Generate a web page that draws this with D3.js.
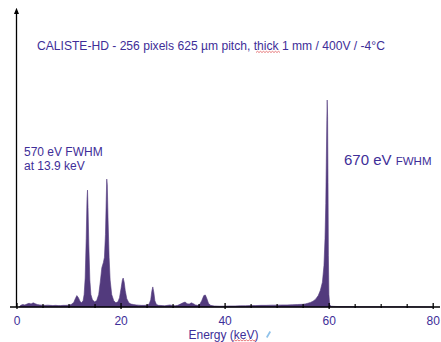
<!DOCTYPE html>
<html>
<head>
<meta charset="utf-8">
<script src="https://cdn.jsdelivr.net/npm/d3@7"></script>
<style>
  html, body { margin: 0; padding: 0; background: #fff; }
  svg { display: block; }
  text { font-family: "Liberation Sans", Arial, sans-serif; }
</style>
</head>
<body>
<svg id="chart" width="441" height="342"></svg>
<script>
// Am-241 spectrum measured with CALISTE-HD (energy in keV, counts in arbitrary units)
const energies = [
  0.5, 0.8, 1.2, 1.6, 2.0, 2.4, 2.8, 3.2, 3.6, 4.0, 4.5, 5.0, 5.5, 6.0, 6.5, 7.0, 7.5, 8.0, 8.5, 9.0,
  9.5, 10.0, 10.5, 11.0, 11.3, 11.6, 11.9, 12.2, 12.5, 12.8, 13.0, 13.2, 13.4, 13.55, 13.65, 13.75, 13.9, 14.1, 14.3, 14.6,
  15.0, 15.4, 15.8, 16.1, 16.4, 16.7, 16.9, 17.1, 17.25, 17.35, 17.45, 17.6, 17.8, 18.0, 18.3, 18.7, 19.1, 19.5, 19.8, 20.1,
  20.35, 20.5, 20.7, 20.9, 21.2, 21.6, 22.0, 22.5, 23.0, 23.5, 24.0, 24.5, 25.0, 25.5, 25.8, 26.0, 26.2, 26.4, 26.6, 26.9,
  27.3, 28.0, 28.5, 29.0, 29.5, 30.0, 30.5, 31.0, 31.5, 32.0, 32.4, 32.8, 33.2, 33.6, 34.0, 34.4, 34.8, 35.2, 35.6, 36.0,
  36.3, 36.6, 36.9, 37.3, 38.0, 39.0, 40.0, 41.0, 42.0, 43.0, 44.0, 45.0, 46.0, 47.0, 48.0, 49.0, 50.0, 51.0, 52.0, 53.0,
  54.0, 55.0, 55.5, 56.0, 56.5, 57.0, 57.5, 58.0, 58.4, 58.8, 59.1, 59.3, 59.45, 59.55, 59.65, 59.72, 59.8, 59.88, 59.95, 60.05,
  60.2, 60.5, 61.0, 62.0, 64.0, 66.0, 70.0, 75.0, 80.0
];
const counts = [
  0, 8, 12, 10, 14, 18, 15, 20, 16, 12, 10, 9, 8, 9, 8, 7, 8, 7, 7, 8,
  8, 9, 12, 22, 40, 55, 45, 28, 20, 30, 60, 140, 330, 520, 565, 480, 300, 130, 60, 35,
  25, 30, 60, 120, 190, 215, 240, 350, 520, 618, 590, 420, 240, 130, 60, 30, 20, 25, 45, 90,
  130, 140, 120, 80, 40, 20, 14, 12, 10, 9, 8, 8, 9, 14, 35, 75, 97, 70, 30, 12,
  8, 7, 6, 8, 10, 7, 6, 8, 14, 20, 24, 16, 14, 20, 16, 10, 8, 12, 30, 55,
  58, 40, 18, 8, 5, 4, 4, 5, 5, 6, 6, 7, 7, 8, 8, 9, 9, 10, 10, 11,
  12, 13, 15, 18, 22, 28, 38, 55, 80, 120, 200, 330, 500, 700, 900, 1000, 920, 600, 250, 60,
  10, 4, 3, 2, 2, 1, 1, 1, 0
];
const majorTicks = [0, 20, 40, 60, 80];
const minorTicks = [5, 10, 15, 25, 30, 35, 45, 50, 55, 65, 70, 75];

const titleText = "CALISTE-HD - 256 pixels 625 \u00b5m pitch, thick 1 mm / 400V / -4\u00b0C";
const leftNote = ["570 eV FWHM", "at 13.9 keV"];
const peakNote = "670 eV";
const peakNoteUnit = "FWHM";
const xLabel = "Energy (keV)";

const textColor = "#3e2e98";
const fillColor = "#523a7d";

const svg = d3.select("#chart");

const x = d3.scaleLinear().domain([0, 80]).range([16.5, 432.7]);
const y = d3.scaleLinear().domain([0, 1435]).range([307, 10]);

const spectrum = energies.map((e, i) => ({ e, c: counts[i] }));

// filled spectrum
const area = d3.area()
  .x(d => x(d.e))
  .y0(y(0))
  .y1(d => y(d.c))
  .curve(d3.curveLinear);

svg.append("path")
  .datum(spectrum)
  .attr("d", area)
  .attr("fill", fillColor)
  .attr("stroke", fillColor)
  .attr("stroke-width", 0.6)
  .attr("stroke-linejoin", "round");

// arrow for the vertical axis
svg.append("defs").append("marker")
  .attr("id", "arrow")
  .attr("viewBox", "0 0 10 10")
  .attr("refX", 5).attr("refY", 5)
  .attr("markerWidth", 5).attr("markerHeight", 6)
  .attr("orient", "auto")
  .append("path")
  .attr("d", "M0,1 L10,5 L0,9 Z")
  .attr("fill", "#000");

svg.append("line")
  .attr("x1", x(0)).attr("x2", x(0))
  .attr("y1", y(0)).attr("y2", y(1435) + 1)
  .attr("stroke", "#000").attr("stroke-width", 1.3)
  .attr("marker-end", "url(#arrow)");

// horizontal axis line
svg.append("line")
  .attr("x1", 10).attr("x2", 440)
  .attr("y1", y(0)).attr("y2", y(0))
  .attr("stroke", "#000").attr("stroke-width", 1.3);

// minor ticks
const minorAxis = svg.append("g")
  .attr("transform", `translate(0,${y(0)})`)
  .call(d3.axisBottom(x).tickValues(minorTicks).tickFormat("").tickSizeOuter(0));
minorAxis.select(".domain").remove();
minorAxis.selectAll(".tick line")
  .attr("y1", -3).attr("y2", 1)
  .attr("stroke", "#000").attr("stroke-width", 1.2);

// major ticks with labels
const majorAxis = svg.append("g")
  .attr("transform", `translate(0,${y(0)})`)
  .call(d3.axisBottom(x).tickValues(majorTicks).tickFormat(d3.format("d")).tickSizeOuter(0));
majorAxis.select(".domain").remove();
majorAxis.selectAll(".tick line")
  .attr("y1", -4).attr("y2", 2)
  .attr("stroke", "#000").attr("stroke-width", 1.3);
majorAxis.selectAll(".tick text")
  .attr("y", 18)
  .attr("dy", null)
  .attr("fill", textColor)
  .attr("font-size", 12)
  .attr("font-family", "Liberation Sans, Arial, sans-serif");

// axis title
svg.append("text")
  .attr("x", 223.5).attr("y", 338.5)
  .attr("text-anchor", "middle")
  .attr("font-size", 12)
  .attr("fill", textColor)
  .text(xLabel);

// wavy underline helper
function wavy(x0, x1, yy) {
  const p = d3.path();
  p.moveTo(x0, yy);
  let up = true;
  for (let xx = x0 + 1.5; xx <= x1; xx += 1.5) {
    p.lineTo(xx, up ? yy - 1.2 : yy);
    up = !up;
  }
  return p.toString();
}

svg.append("path")
  .attr("d", wavy(233, 256, 341))
  .attr("fill", "none").attr("stroke", "#e0585a").attr("stroke-width", 0.8);

// small cursor glyph beside the axis title
svg.append("path")
  .attr("d", "M266,337 L269.5,331 L271,332 L267.5,338 Z")
  .attr("fill", "#8fc2ea");

// chart title
svg.append("text")
  .attr("x", 37).attr("y", 49.5)
  .attr("font-size", 12.1)
  .attr("fill", textColor)
  .text(titleText);

svg.append("path")
  .attr("d", wavy(256, 281, 52.5))
  .attr("fill", "none").attr("stroke", "#e0585a").attr("stroke-width", 0.8);

// resolution note for the 13.9 keV line
svg.append("text")
  .attr("x", 24).attr("y", 156)
  .attr("font-size", 12)
  .attr("fill", textColor)
  .selectAll("tspan")
  .data(leftNote)
  .join("tspan")
  .attr("x", 24)
  .attr("dy", (d, i) => i === 0 ? 0 : 13.5)
  .text(d => d);

// resolution note for the 59.5 keV line
const pn = svg.append("text")
  .attr("x", 344).attr("y", 164.5)
  .attr("fill", textColor);
pn.append("tspan").attr("font-size", 15).text(peakNote + " ");
pn.append("tspan").attr("font-size", 11.5).text(peakNoteUnit);
</script>
</body>
</html>
